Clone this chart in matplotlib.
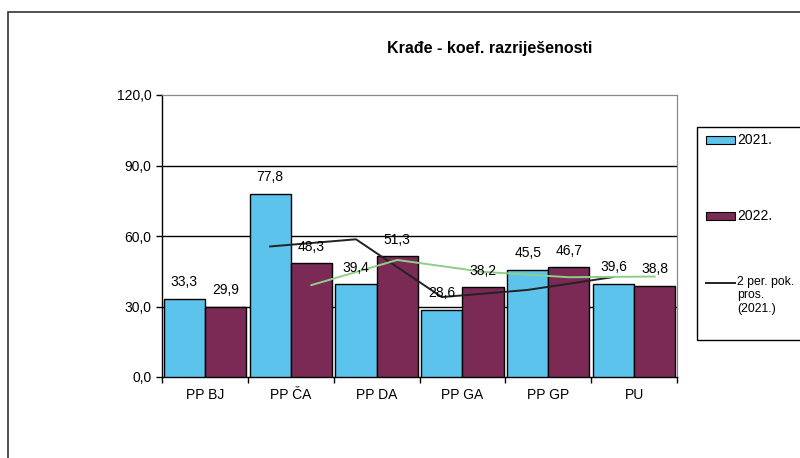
import matplotlib
matplotlib.use("Agg")
import matplotlib.pyplot as plt
from matplotlib.patches import Rectangle
from matplotlib.lines import Line2D

categories = ["PP BJ", "PP ČA", "PP DA", "PP GA", "PP GP", "PU"]
vals_2021 = [33.3, 77.8, 39.4, 28.6, 45.5, 39.6]
vals_2022 = [29.9, 48.3, 51.3, 38.2, 46.7, 38.8]
# 2-period moving averages (starting at 2nd category)
ma_2021 = [55.55, 58.6, 34.0, 37.05, 42.55]
ma_2022 = [39.1, 49.8, 44.75, 42.45, 42.75]
y_ticks = [0, 30, 60, 90, 120]
title = "Krađe - koef. razriješenosti"

plt.rcParams["font.family"] = ["Liberation Sans", "DejaVu Sans"]

BLUE = "#5CC3EC"
PURPLE = "#7B2A55"
GREEN = "#8DCF87"

fig = plt.figure(figsize=(8.0, 4.58), dpi=100)
ax = fig.add_axes([162/800, 1-377/458, 515/800, 282/458])

n = len(categories)
x = list(range(n))
w = 0.48
xb = [i - w/2 for i in x]
xp = [i + w/2 for i in x]
ax.bar(xb, vals_2021, width=w, color=BLUE, edgecolor="black", linewidth=1.0, zorder=3)
ax.bar(xp, vals_2022, width=w, color=PURPLE, edgecolor="black", linewidth=1.0, zorder=3)

ax.plot(xb[1:], ma_2021, color="#222222", lw=1.4, zorder=5)
ax.plot(xp[1:], ma_2022, color=GREEN, lw=1.4, zorder=5)

def fmt(v):
    return f"{v:.1f}".replace(".", ",")

for xi, v in zip(xb, vals_2021):
    ax.annotate(fmt(v), (xi, v), xytext=(0, 7), textcoords="offset points",
                ha="center", va="bottom", fontsize=10, zorder=6)
for xi, v in zip(xp, vals_2022):
    ax.annotate(fmt(v), (xi, v), xytext=(0, 7), textcoords="offset points",
                ha="center", va="bottom", fontsize=10, zorder=6)

ax.set_xlim(-0.5, n - 0.5)
ax.set_ylim(0, 120)
ax.set_yticks(y_ticks)
ax.set_yticklabels([fmt(t) for t in y_ticks], fontsize=10)
ax.tick_params(axis="y", direction="out", length=4, width=1)
ax.set_xticks([i - 0.5 for i in range(n + 1)])
ax.set_xticklabels([])
ax.set_xticks(x, minor=True)
ax.set_xticklabels(categories, minor=True, fontsize=10)
ax.tick_params(axis="x", which="major", direction="out", length=4, width=1)
ax.tick_params(axis="x", which="minor", length=0, pad=8)

for t in [30, 60, 90]:
    ax.axhline(t, color="black", lw=1.0, zorder=1)
for s in ["left", "bottom"]:
    ax.spines[s].set_color("black")
    ax.spines[s].set_linewidth(1.0)
for s in ["top", "right"]:
    ax.spines[s].set_color("#888888")
    ax.spines[s].set_linewidth(0.9)

fig.text(490/800, 1-48/458, title, ha="center", va="center", fontsize=11.5, fontweight="bold")

# outer frame
fig.patches.append(Rectangle((8/800, -0.2), 1.2, 1.2 - 12/458, transform=fig.transFigure,
                             fill=False, edgecolor="#333333", lw=1.2))

# legend (manual)
lx0, lx1 = 697/800, 1.05
ly_top, ly_bot = 1-127/458, 1-340/458
fig.patches.append(Rectangle((lx0, ly_bot), lx1 - lx0, ly_top - ly_bot, transform=fig.transFigure,
                             fill=False, edgecolor="black", lw=1.0))
hx0, hx1 = 706/800, 735/800
for yc, col, lab in [(140, BLUE, "2021."), (216, PURPLE, "2022.")]:
    y = 1 - yc/458
    fig.patches.append(Rectangle((hx0, y - 4/458), hx1 - hx0, 8/458, transform=fig.transFigure,
                                 facecolor=col, edgecolor="black", lw=0.8))
    fig.text(737/800, y, lab, ha="left", va="center", fontsize=10)
yl = 1 - 283/458
fig.lines.append(Line2D([hx0, hx1], [yl, yl], transform=fig.transFigure, color="#222222", lw=1.4))
fig.text(737/800, yl + 7/458, "2 per. pok.\npros.\n(2021.)", ha="left", va="top", fontsize=8.8,
         linespacing=1.15)

fig.savefig("out.png", dpi=100)
